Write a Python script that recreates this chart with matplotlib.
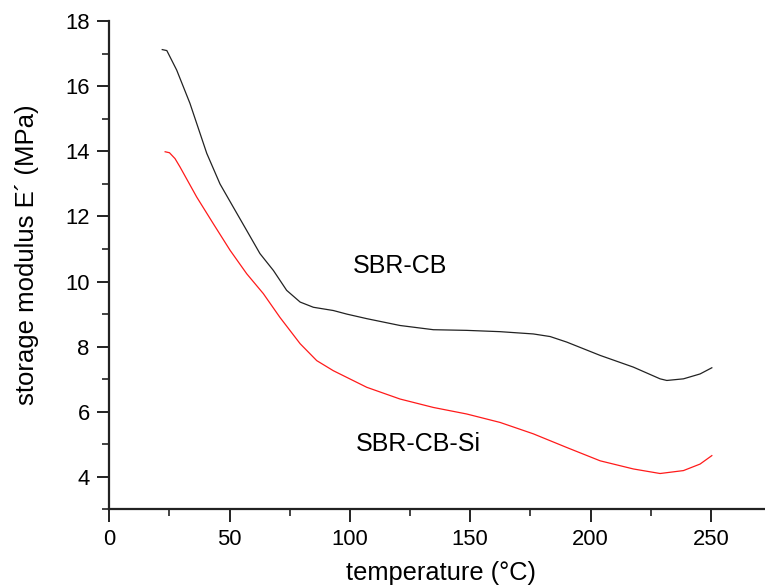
import matplotlib
matplotlib.use("Agg")
import matplotlib.pyplot as plt
from matplotlib.ticker import MultipleLocator

plt.rcParams['font.family'] = ['Liberation Sans', 'DejaVu Sans']

# SBR-CB (black)
cb_temp = [22.0, 23.9, 28.0, 33.5, 40.5, 46.0, 51.5, 57.1, 62.6, 68.2, 73.7, 79.3,
           84.8, 93.1, 98.7, 107.0, 120.8, 134.7, 148.5, 162.4, 176.2, 183.2, 190.1,
           204.0, 217.8, 228.9, 231.7, 238.6, 245.5, 250.4]
cb_mod = [17.13, 17.10, 16.50, 15.48, 13.94, 13.00, 12.29, 11.57, 10.86, 10.34, 9.73, 9.37,
          9.21, 9.11, 9.00, 8.86, 8.65, 8.52, 8.50, 8.46, 8.39, 8.31, 8.14,
          7.73, 7.37, 7.01, 6.96, 7.01, 7.16, 7.35]

# SBR-CB-Si (red)
si_temp = [23.2, 25.0, 27.3, 29.4, 36.3, 43.2, 50.2, 57.1, 64.0, 70.9, 79.3, 86.2,
           93.1, 107.0, 120.8, 134.7, 148.5, 162.4, 176.2, 190.1, 204.0, 217.8,
           228.9, 238.6, 245.5, 250.4]
si_mod = [13.99, 13.96, 13.78, 13.52, 12.60, 11.78, 10.96, 10.24, 9.63, 8.90, 8.09, 7.57,
          7.26, 6.75, 6.39, 6.13, 5.93, 5.67, 5.32, 4.90, 4.49, 4.24,
          4.10, 4.19, 4.39, 4.65]

labels = ["SBR-CB", "SBR-CB-Si"]
x_title = "temperature (°C)"
y_title = "storage modulus E´ (MPa)"

fig = plt.figure(figsize=(7.65, 5.85), dpi=100)
ax = fig.add_axes([0.1429, 0.1294, 1.0 - 0.1429, 0.9636 - 0.1294])

ax.plot(cb_temp, cb_mod, color='#222222', lw=0.9)
ax.plot(si_temp, si_mod, color='#ff1a1a', lw=0.9)

ax.set_xlim(0, 272.5)
ax.set_ylim(3, 18)
ax.xaxis.set_major_locator(MultipleLocator(50))
ax.xaxis.set_minor_locator(MultipleLocator(25))
ax.yaxis.set_minor_locator(MultipleLocator(1))
ax.set_yticks([4, 6, 8, 10, 12, 14, 16, 18])

for s in ['top', 'right']:
    ax.spines[s].set_visible(False)
for s in ['left', 'bottom']:
    ax.spines[s].set_linewidth(1.6)
    ax.spines[s].set_color('#222222')

ax.tick_params(which='major', direction='out', length=9, width=1.4, labelsize=15.8,
               color='#222222', pad=5)
ax.tick_params(which='minor', direction='out', length=5, width=1.2, color='#222222')

fig.text(441 / 765, 5 / 585, x_title, fontsize=18.3, ha='center', va='baseline')
fig.text(27 / 765, 1 - 255 / 585, y_title, fontsize=18.5, ha='center', va='center',
         rotation=90)

ax.text(101.3, 10.47, labels[0], fontsize=18, va='center', ha='left')
ax.text(102.5, 5.02, labels[1], fontsize=18, va='center', ha='left')

fig.savefig("out.png", dpi=100)
